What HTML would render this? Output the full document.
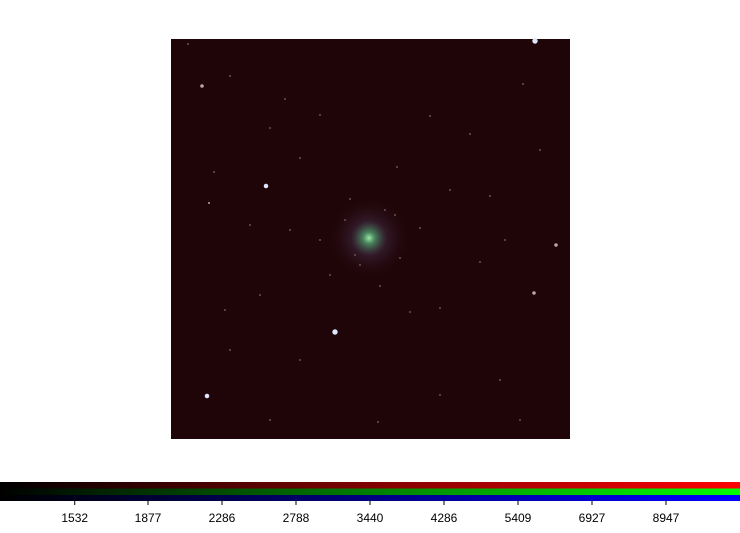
<!DOCTYPE html>
<html><head><meta charset="utf-8"><style>
body{margin:0;background:#fff;width:740px;height:528px;overflow:hidden;font-family:"Liberation Sans",sans-serif}
</style></head><body>
<svg id="s" width="740" height="528">
<defs>
<radialGradient id="core"><stop offset="0" stop-color="#a0e8a8" stop-opacity="1"/><stop offset="0.15" stop-color="#50a070" stop-opacity="0.8"/><stop offset="0.45" stop-color="#503c60" stop-opacity="0.35"/><stop offset="1" stop-color="#301020" stop-opacity="0"/></radialGradient>
<linearGradient id="gr" x1="0" x2="1"><stop offset="0" stop-color="#000"/><stop offset="1" stop-color="#f00"/></linearGradient>
<linearGradient id="gg" x1="0" x2="1"><stop offset="0" stop-color="#000"/><stop offset="1" stop-color="#0f0"/></linearGradient>
<linearGradient id="gb" x1="0" x2="1"><stop offset="0" stop-color="#000"/><stop offset="1" stop-color="#00f"/></linearGradient>
</defs>
<rect x="171" y="39" width="399" height="400" fill="#1f0507"/>
<circle cx="369" cy="238" r="40" fill="url(#core)"/>
<g id="stars"></g>
<rect x="0" y="482" width="740" height="6.5" fill="url(#gr)"/>
<rect x="0" y="488.5" width="740" height="6.5" fill="url(#gg)"/>
<rect x="0" y="495" width="740" height="6" fill="url(#gb)"/>
<g id="ticks"></g>
</svg>
<script>
const tickLabels=["1532","1877","2286","2788","3440","4286","5409","6927","8947"];
const tickPos=[0.101,0.2,0.3,0.4,0.5,0.6,0.7,0.8,0.9];
const starX=[535,202,266,335,207,556,534,209,188,214,230,285,397,470,490,523,300,430,250,350,480,260,330,410,440,380,360,395,345,355,385,400,320,420,450,300,270,500,520,540,230,290,440,505,378,270,225,320];
const starY=[41,86,186,332,396,245,293,203,44,172,76,99,167,134,196,84,158,116,225,199,262,295,275,312,308,286,265,215,220,255,210,258,240,228,190,360,420,380,420,150,350,230,395,240,422,128,310,115];
const starB=[3,2,2.5,3,2.5,2,2,1.5,1,1,1,1,1,1,1.2,1,1,1,1,1.2,1,1,1,1,1,1,1.2,1.2,1.2,1.2,1.2,1.2,1,1,1,1,1,1,1,1,1,1,1,1,1,1,1,1];
const NS="http://www.w3.org/2000/svg";
const sg=document.getElementById('stars');
for(let i=0;i<starX.length;i++){
 const b=starB[i];
 const c=document.createElementNS(NS,'circle');
 c.setAttribute('cx',starX[i]);c.setAttribute('cy',starY[i]);c.setAttribute('r',b>1.5?b*0.9:1);
 c.setAttribute('fill',b>2.2?'#dde8ff':(b>1.4?'#c0a0a0':'#705050'));
 
 
 sg.appendChild(c);
}
const tg=document.getElementById('ticks');
for(let i=0;i<tickLabels.length;i++){
 const x=tickPos[i]*740;
 const l=document.createElementNS(NS,'line');
 l.setAttribute('x1',x);l.setAttribute('x2',x);l.setAttribute('y1',501);l.setAttribute('y2',505);l.setAttribute('stroke','#000');
 
 
 tg.appendChild(l);
 const t=document.createElementNS(NS,'text');
 t.setAttribute('x',x);t.setAttribute('y',522);t.setAttribute('text-anchor','middle');t.setAttribute('font-size','12');t.setAttribute('fill','#000');
 t.textContent=tickLabels[i];
 
 
 tg.appendChild(t);
}
</script>
</body></html>
